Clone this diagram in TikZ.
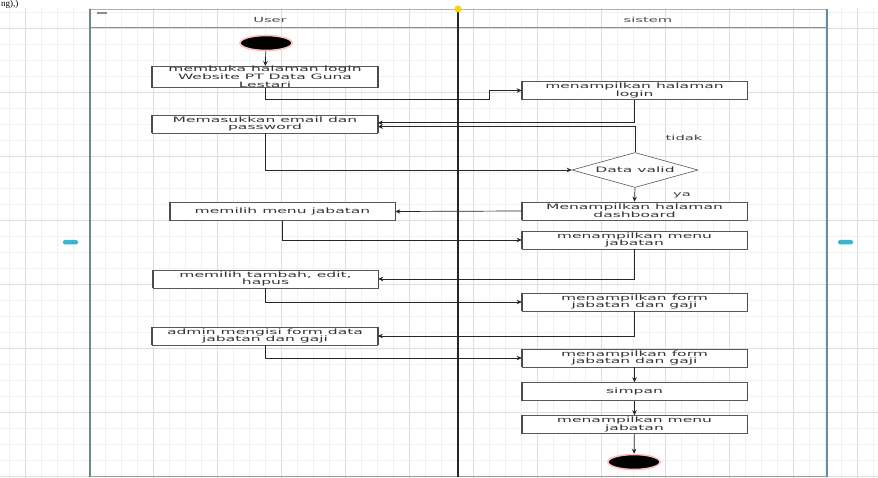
\documentclass[tikz,border=0pt]{standalone}
\usepackage{fontspec}
\newfontfamily\lbl[FakeStretch=2.1]{DejaVu Sans}
\newfontfamily\serf{Liberation Serif}
\usetikzlibrary{shapes.geometric,arrows.meta}
\definecolor{poolL}{HTML}{6A8A8E}
\definecolor{poolR}{HTML}{5E90A2}
\definecolor{handle}{HTML}{3CB4CC}
\begin{document}
\begin{tikzpicture}[x=1pt,y=-1pt,
  act/.style={draw=black!65, line width=0.6pt, fill=white, minimum width=225pt,
    minimum height=18pt, inner sep=0pt, align=center, text=black!80,
    font=\fontsize{7.4}{7.8}\selectfont\lbl,
    append after command={(\tikzlastnode.north west) edge[draw=black!70,line width=1.6pt] (\tikzlastnode.south west)
      (\tikzlastnode.north east) edge[draw=black!70,line width=1.6pt] (\tikzlastnode.south east)}},
  dec/.style={draw=black!65, line width=0.6pt, fill=white, shape=diamond, aspect=3.6,
    minimum width=126pt, minimum height=35pt, inner sep=0pt, text=black!80,
    font=\fontsize{7.4}{7.8}\selectfont\lbl},
  term/.style={ellipse, fill=black, minimum width=52pt, minimum height=15pt, inner sep=0pt,
    draw=red!25, line width=1.6pt},
  arr/.style={draw=black!85, line width=0.7pt, -{Stealth[length=5pt,width=4.5pt]}},
  lbltxt/.style={font=\fontsize{7}{8}\selectfont\lbl, text=black!75, inner sep=0pt},
  hd/.style={font=\fontsize{7}{8}\selectfont\lbl, text=black!70, inner sep=0pt}
]
\useasboundingbox (0,0) rectangle (878,478);
\fill[white] (0,0) rectangle (878,478);
% grid
\foreach \x in {9,25,...,878} \draw[black!5,line width=0.5pt] (\x,8) -- (\x,478);
\foreach \y in {12,28,...,478} \draw[black!5,line width=0.5pt] (0,\y) -- (878,\y);
\foreach \x in {25,89,...,878} \draw[black!13,line width=0.7pt] (\x,8) -- (\x,478);
\foreach \y in {28,92,...,478} \draw[black!13,line width=0.7pt] (0,\y) -- (878,\y);
% text fragment at top
\node[anchor=base west, inner sep=0pt, font=\fontsize{9}{9}\selectfont\serf] (frag) at (1,6.5) {ng),)};
% pool
\draw[black!30,line width=0.8pt] (90,9) -- (827,9);
\draw[black!45,line width=1pt] (90,28) -- (827,28);
\draw[black!40,line width=0.8pt] (90,476) -- (827,476);
\draw[poolL,line width=2.6pt] (90,9) -- (90,477);
\draw[poolR,line width=2.6pt] (827,9) -- (827,477);
\draw[black!85,line width=1.8pt] (458,9) -- (458,477);
\fill[black!45] (97,12) rectangle (107,14.5);
\fill[yellow!70!orange] (458,9) circle (3.5pt);
\fill[handle, rounded corners=2pt] (63,240) rectangle (78,244.5);
\fill[handle, rounded corners=2pt] (838,240) rectangle (853,244.5);
\node[hd] (hU) at (270,20) {User};
\node[hd] (hS) at (648,20) {sistem};
% user lane
\node[term] (start) at (266,43) {};
\node[act, minimum height=20pt] (A1) at (265,77) {membuka halaman login\\Website PT Data Guna\\Lestari};
\node[act] (A2) at (265,124) {Memasukkan email dan\\password};
\node[act] (A3) at (282.5,211.5) {memilih menu jabatan};
\node[act] (A4) at (265.5,279) {memilih tambah, edit,\\hapus};
\node[act] (A5) at (265,336) {admin mengisi form data\\jabatan dan gaji};
% system lane
\node[act] (S1) at (634.5,90.5) {menampilkan halaman\\login};
\node[dec] (D) at (635,170) {Data valid};
\node[act] (S2) at (634.5,211) {Menampilkan halaman\\dashboard};
\node[act] (S3) at (634.5,240) {menampilkan menu\\jabatan};
\node[act] (S4) at (634.5,302) {menampilkan form\\jabatan dan gaji};
\node[act] (S5) at (634.5,358) {menampilkan form\\jabatan dan gaji};
\node[act] (S6) at (634.5,391.5) {simpan};
\node[act] (S7) at (634.5,424.5) {menampilkan menu\\jabatan};
\node[term] (end) at (634,462) {};
\node[lbltxt] (tidak) at (684,138) {tidak};
\node[lbltxt] (ya) at (682,195) {ya};
% connectors
\draw[arr] (start) -- (A1);
\draw[arr] (A1.south) -- ++(0,11) -| ([xshift=-32pt]S1.west) -- (S1.west);
\draw[arr] (S1.south) |- ([yshift=1.2pt]A2.east);
\draw[arr] (D.north) |- ([yshift=-2.6pt]A2.east);
\draw[arr] (A2.south) |- (D.west);
\draw[arr] (D.south) -- (S2.north);
\draw[arr] (S2.west) -- (A3.east);
\draw[arr] (A3.south) |- (S3.west);
\draw[arr] (S3.south) |- (A4.east);
\draw[arr] (A4.south) |- (S4.west);
\draw[arr] (S4.south) |- (A5.east);
\draw[arr] (A5.south) |- (S5.west);
\draw[arr] (S5) -- (S6);
\draw[arr] (S6) -- (S7);
\draw[arr] (S7) -- (end);
\end{tikzpicture}
\end{document}
